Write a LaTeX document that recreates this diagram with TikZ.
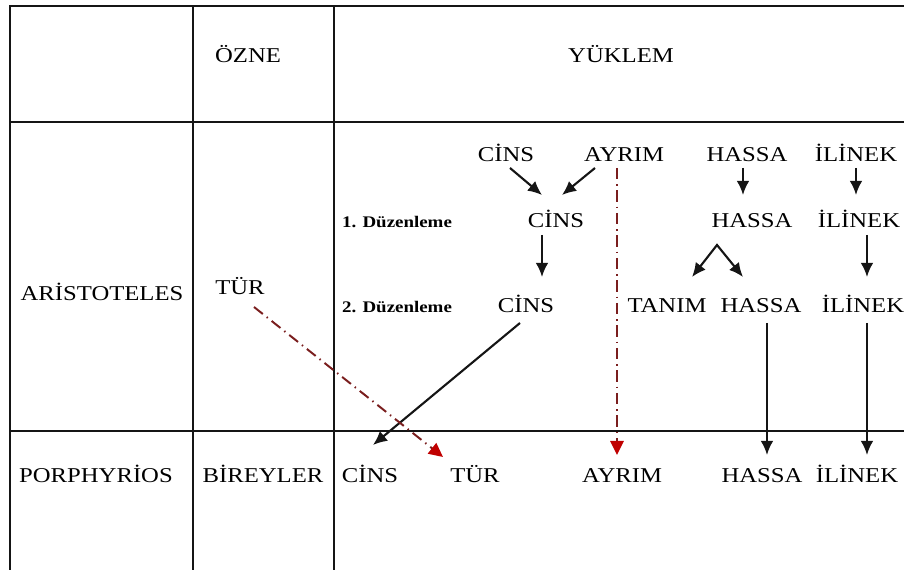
\documentclass[tikz,border=0pt]{standalone}
\usepackage{fontspec}
\setmainfont{Liberation Serif}[FakeStretch=1.17]
\usetikzlibrary{arrows.meta,calc}
\definecolor{ink}{HTML}{151515}
\definecolor{maroon}{HTML}{7A1E1E}
\definecolor{tipred}{HTML}{C00000}
\tikzset{>=Latex,
  lbl/.style={anchor=base,inner sep=0pt,font=\fontsize{15}{18}\selectfont},
  dz/.style={anchor=base,inner sep=0pt,font=\fontsize{11.5}{13}\selectfont\bfseries},
  rule/.style={draw=ink,line width=1.1pt},
  tip/.style={-{Latex[length=10pt,width=9pt]}},
  arr/.style={tip,draw=ink,line width=1.5pt},
  redarr/.style={-{Triangle[length=10pt,width=9.5pt,color=tipred]},draw=maroon,
    line width=1.4pt,dash pattern=on 8pt off 3.5pt on 1pt off 3.5pt}}
\begin{document}
\begin{tikzpicture}[x=0.025cm,y=-0.025cm]
\useasboundingbox (0,0) rectangle (904,570);
% table
\draw[rule] (10,570)--(10,6)--(904,6);
\draw[rule] (193,6)--(193,570);\draw[rule] (334,6)--(334,570);
\draw[rule] (10,122)--(904,122);\draw[rule] (10,431)--(904,431);
% headings
\node[lbl] (ozne) at (248,63) {ÖZNE};
\node[lbl] (yuklem) at (621,63) {YÜKLEM};
\node[lbl] (aristo) at (102,301) {ARİSTOTELES};
\node[lbl] (turA) at (240,295) {TÜR};
\node[lbl] (porph) at (96,483) {PORPHYRİOS};
\node[lbl] (birey) at (263,483) {BİREYLER};
% aristoteles rows
\node[lbl] (cinsA) at (506,162) {CİNS};
\node[lbl] (ayrimA) at (624,162) {AYRIM};
\node[lbl] (hassaA) at (747,162) {HASSA};
\node[lbl] (ilinekA) at (856,162) {İLİNEK};
\node[dz] (duz1) at (397,228) {1. Düzenleme};
\node[lbl] (cinsB) at (556,228) {CİNS};
\node[lbl] (hassaB) at (752,228) {HASSA};
\node[lbl] (ilinekB) at (859,228) {İLİNEK};
\node[dz] (duz2) at (397,313) {2. Düzenleme};
\node[lbl] (cinsC) at (526,313) {CİNS};
\node[lbl] (tanim) at (667,313) {TANIM};
\node[lbl] (hassaC) at (761,313) {HASSA};
\node[lbl] (ilinekC) at (863,313) {İLİNEK};
% porphyrios row
\node[lbl] (cinsD) at (370,483) {CİNS};
\node[lbl] (turB) at (475,483) {TÜR};
\node[lbl] (ayrimB) at (622,483) {AYRIM};
\node[lbl] (hassaD) at (762,483) {HASSA};
\node[lbl] (ilinekD) at (857,483) {İLİNEK};
% arrows
\draw[arr] ($(cinsA.base)+(4,6)$)--($(cinsB.base)+(-14,-33)$);
\draw[arr] ($(ayrimA.base)+(-29,6)$)--($(cinsB.base)+(6,-33)$);
\draw[arr] ($(hassaA.base)+(-4,6)$)--($(hassaB.base)+(-9,-33)$);
\draw[arr] ($(ilinekA.base)+(0,6)$)--($(ilinekB.base)+(-3,-33)$);
\draw[arr] ($(cinsB.base)+(-14,7)$)--($(cinsC.base)+(16,-36)$);
\draw[arr,{Latex[length=10pt,width=9pt]}-{Latex[length=10pt,width=9pt]}] ($(tanim.base)+(25,-36)$)--($(hassaB.base)+(-35,17)$)--($(hassaC.base)+(-18,-36)$);
\draw[arr] ($(ilinekB.base)+(8,7)$)--($(ilinekC.base)+(4,-36)$);
\draw[arr] ($(cinsC.base)+(-6,10)$)--($(cinsD.base)+(3,-38)$);
\draw[arr] ($(hassaC.base)+(6,10)$)--($(hassaD.base)+(5,-28)$);
\draw[arr] ($(ilinekC.base)+(4,10)$)--($(ilinekD.base)+(10,-28)$);
\draw[redarr] ($(turA.base)+(14,12)$)--($(turB.base)+(-32,-26)$);
\draw[redarr] ($(ayrimA.base)+(-7,6)$)--($(ayrimB.base)+(-5,-28)$);
\end{tikzpicture}
\end{document}
